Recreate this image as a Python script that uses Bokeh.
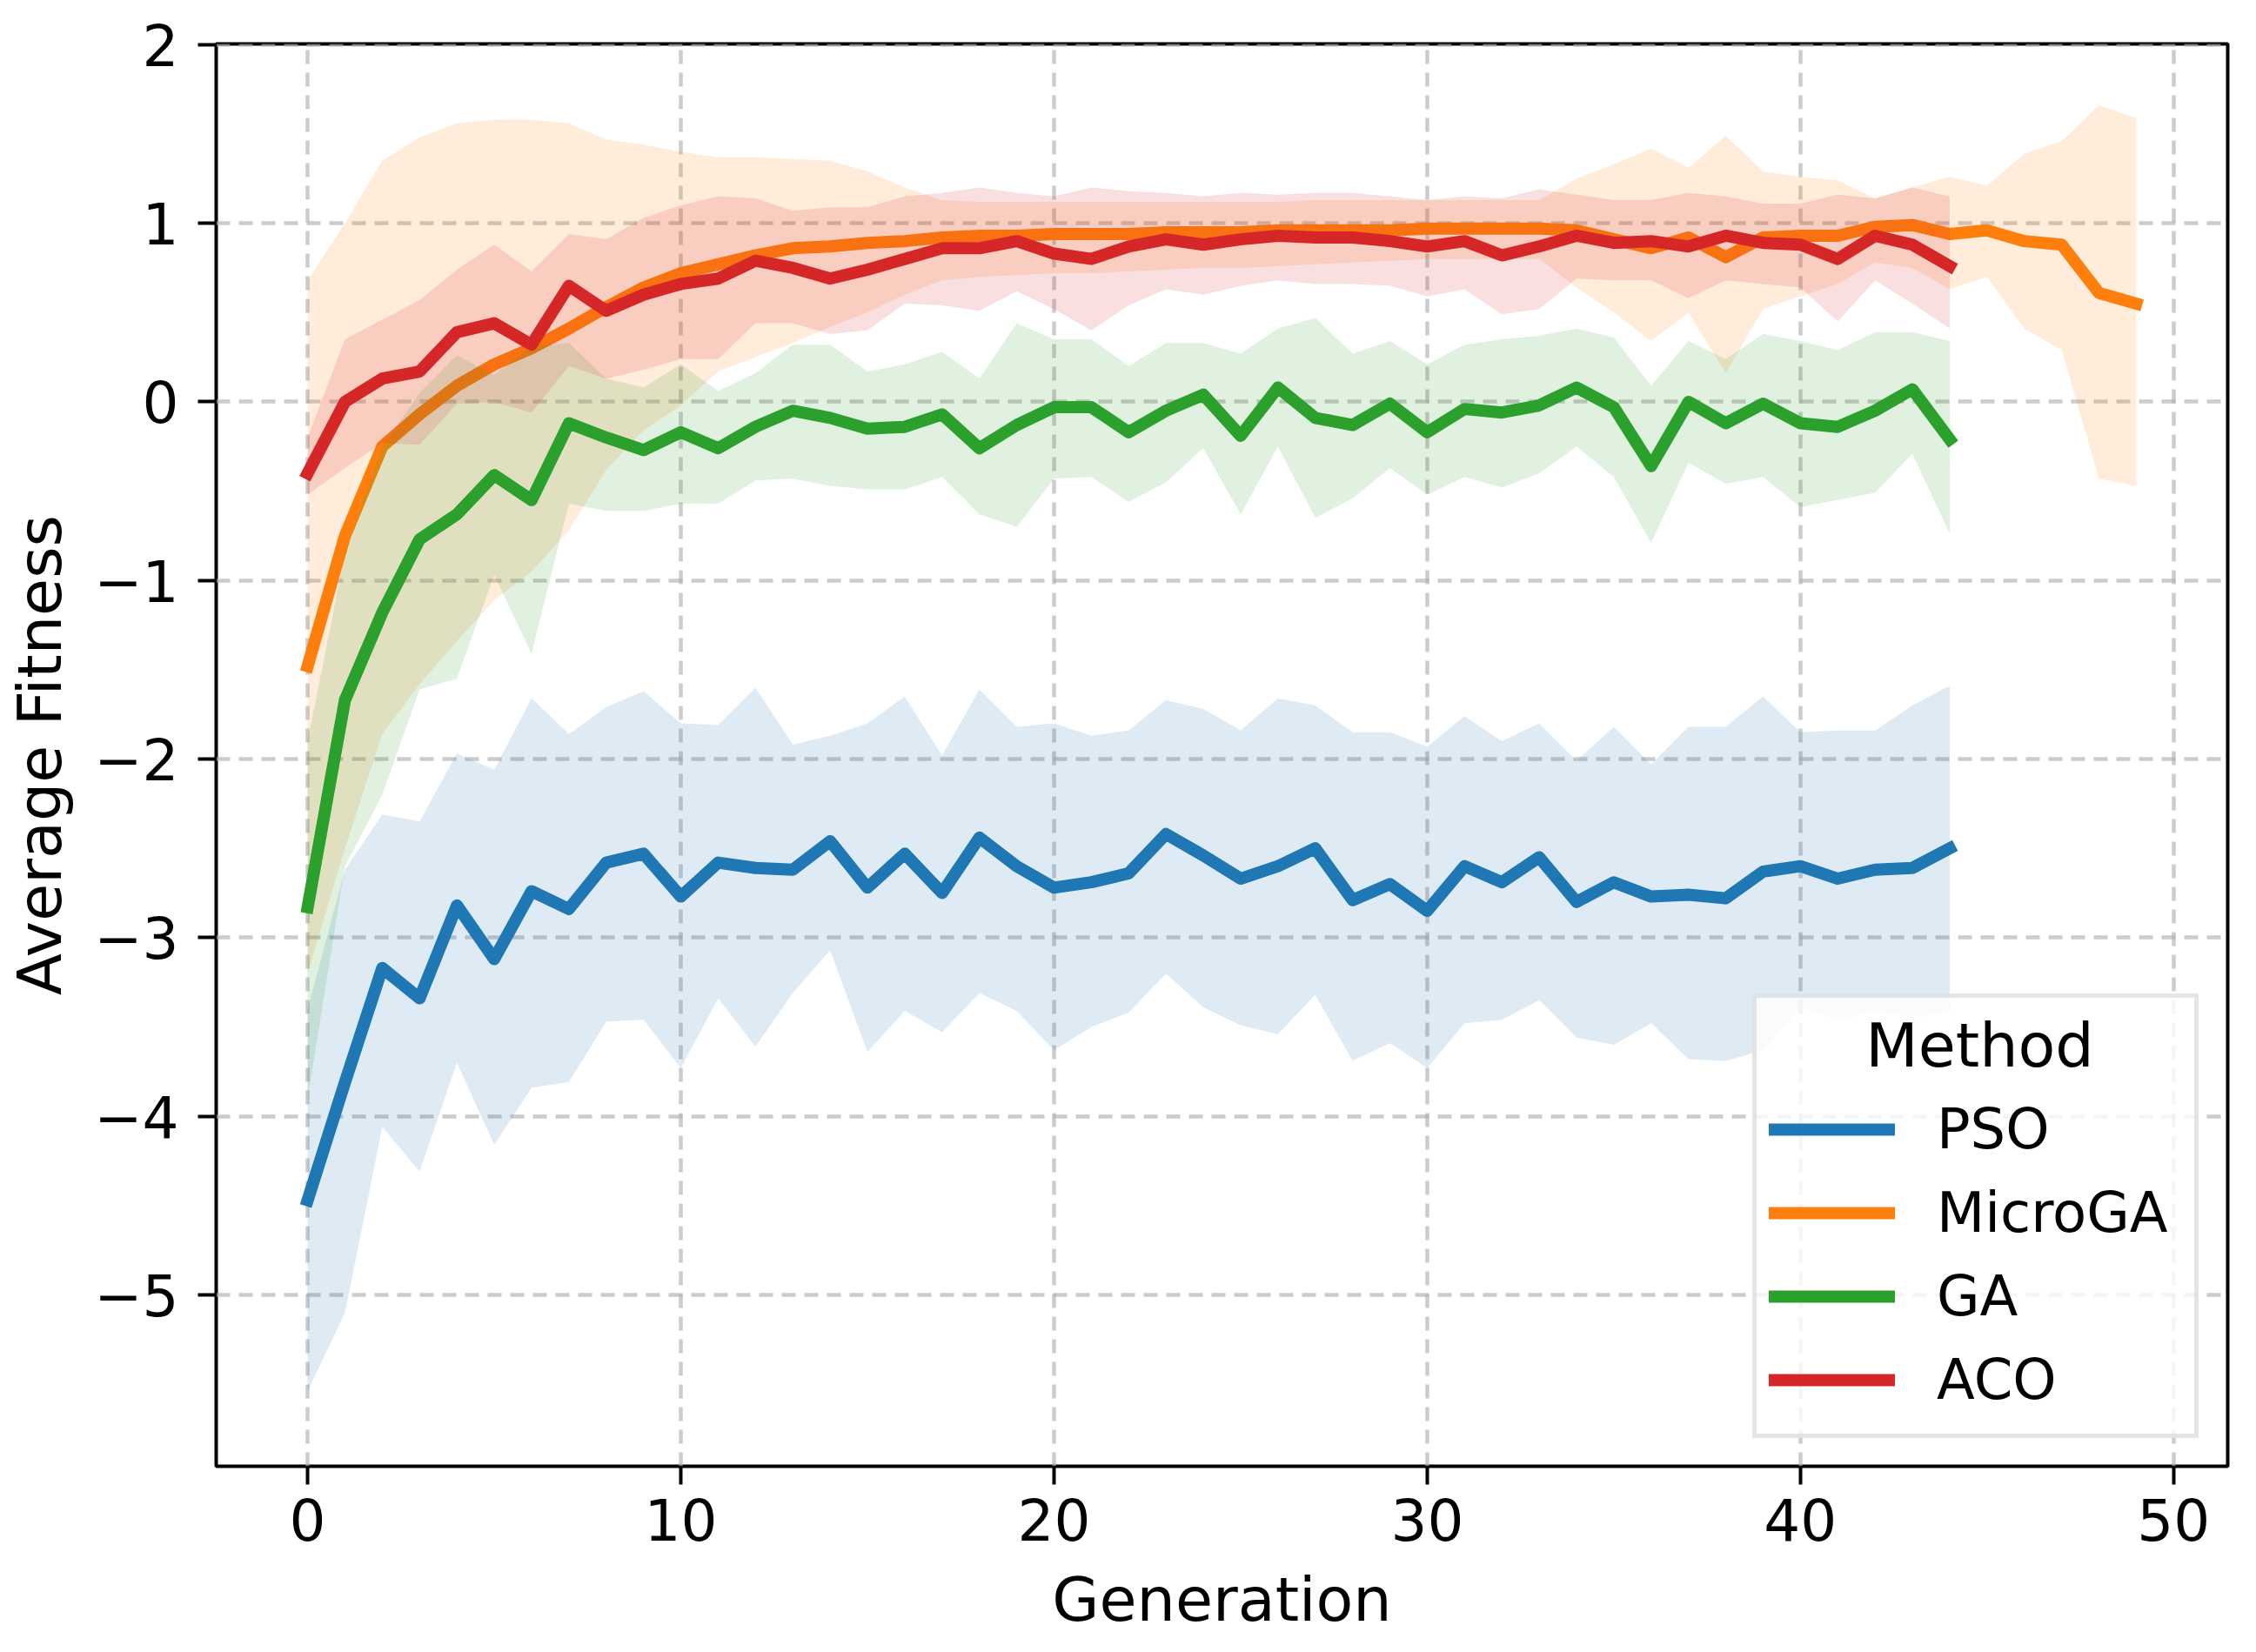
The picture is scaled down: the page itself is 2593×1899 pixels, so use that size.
from bokeh.plotting import figure
from bokeh.models import (ColumnDataSource, Legend, LegendItem, Range1d, FixedTicker,
                          CustomJSTickFormatter)
from bokeh.embed import file_html
from bokeh.resources import INLINE

# ---------------- data ----------------
methods = ["PSO", "MicroGA", "GA", "ACO"]
colors = ["#1f77b4", "#ff7f0e", "#2ca02c", "#d62728"]

pso_mean = [-4.47, -3.81, -3.17, -3.34, -2.82, -3.12, -2.74, -2.84, -2.58, -2.53, -2.77, -2.58, -2.61, -2.62, -2.46,
            -2.72, -2.53, -2.75, -2.44, -2.60, -2.72, -2.69, -2.64, -2.42, -2.54, -2.67, -2.60, -2.50, -2.79, -2.70,
            -2.85, -2.60, -2.69, -2.55, -2.80, -2.69, -2.77, -2.76, -2.78, -2.63, -2.60, -2.67, -2.62, -2.61, -2.50]
pso_upper = [-3.40, -2.62, -2.31, -2.35, -1.97, -2.06, -1.66, -1.86, -1.71, -1.62, -1.80, -1.81, -1.60, -1.92, -1.87,
             -1.80, -1.65, -1.98, -1.61, -1.82, -1.80, -1.87, -1.84, -1.67, -1.72, -1.84, -1.66, -1.70, -1.85, -1.85,
             -1.93, -1.76, -1.90, -1.80, -2.01, -1.82, -2.03, -1.82, -1.82, -1.65, -1.85, -1.84, -1.84, -1.70, -1.59]
pso_lower = [-5.54, -5.10, -4.06, -4.31, -3.70, -4.16, -3.84, -3.81, -3.47, -3.46, -3.73, -3.34, -3.61, -3.31, -3.07,
             -3.64, -3.41, -3.53, -3.31, -3.41, -3.63, -3.50, -3.42, -3.20, -3.39, -3.49, -3.54, -3.32, -3.69, -3.59,
             -3.73, -3.48, -3.46, -3.35, -3.56, -3.60, -3.48, -3.68, -3.69, -3.63, -3.39, -3.46, -3.41, -3.45, -3.41]

micro_mean = [-1.48, -0.75, -0.25, -0.07, 0.09, 0.21, 0.30, 0.41, 0.53, 0.64, 0.72, 0.77, 0.82, 0.86, 0.87,
              0.89, 0.90, 0.92, 0.93, 0.93, 0.94, 0.94, 0.94, 0.95, 0.95, 0.95, 0.96, 0.96, 0.96, 0.96,
              0.97, 0.97, 0.97, 0.97, 0.96, 0.91, 0.86, 0.92, 0.81, 0.92, 0.93, 0.93, 0.98, 0.99, 0.94,
              0.96, 0.90, 0.88, 0.61, 0.55]
micro_upper = [0.68, 1.00, 1.35, 1.48, 1.56, 1.58, 1.58, 1.56, 1.47, 1.44, 1.40, 1.37, 1.37, 1.36, 1.35,
               1.29, 1.20, 1.13, 1.12, 1.12, 1.12, 1.12, 1.12, 1.12, 1.12, 1.12, 1.12, 1.13, 1.13, 1.13,
               1.13, 1.13, 1.13, 1.13, 1.25, 1.33, 1.42, 1.31, 1.49, 1.29, 1.26, 1.24, 1.14, 1.20, 1.26,
               1.21, 1.39, 1.46, 1.66, 1.59]
micro_lower = [-3.20, -2.50, -1.86, -1.58, -1.34, -1.11, -0.95, -0.72, -0.38, -0.16, -0.02, 0.17, 0.25, 0.33, 0.42,
               0.50, 0.60, 0.68, 0.70, 0.71, 0.72, 0.72, 0.73, 0.74, 0.75, 0.75, 0.76, 0.77, 0.78, 0.79,
               0.80, 0.80, 0.80, 0.80, 0.64, 0.50, 0.34, 0.50, 0.16, 0.52, 0.59, 0.66, 0.78, 0.75, 0.63,
               0.70, 0.41, 0.29, -0.43, -0.47]

ga_mean = [-2.83, -1.67, -1.18, -0.77, -0.63, -0.41, -0.55, -0.12, -0.20, -0.27, -0.17, -0.26, -0.14, -0.05, -0.09,
           -0.15, -0.14, -0.07, -0.26, -0.13, -0.03, -0.03, -0.17, -0.05, 0.04, -0.19, 0.08, -0.09, -0.13, -0.01,
           -0.17, -0.04, -0.06, -0.02, 0.08, -0.03, -0.36, 0.00, -0.12, -0.01, -0.12, -0.14, -0.05, 0.07, -0.21]
ga_upper = [-1.90, -0.85, -0.25, 0.05, 0.26, 0.15, 0.31, 0.33, 0.13, 0.08, 0.21, 0.06, 0.16, 0.32, 0.32,
            0.17, 0.21, 0.28, 0.13, 0.44, 0.35, 0.35, 0.20, 0.33, 0.33, 0.27, 0.41, 0.47, 0.27, 0.34,
            0.21, 0.32, 0.35, 0.37, 0.41, 0.36, 0.09, 0.34, 0.24, 0.38, 0.34, 0.29, 0.39, 0.39, 0.34]
ga_lower = [-3.90, -2.60, -2.20, -1.61, -1.55, -0.97, -1.41, -0.57, -0.61, -0.61, -0.57, -0.57, -0.44, -0.43, -0.47,
            -0.49, -0.49, -0.42, -0.63, -0.70, -0.43, -0.42, -0.56, -0.45, -0.26, -0.63, -0.25, -0.65, -0.54, -0.37,
            -0.52, -0.42, -0.48, -0.40, -0.25, -0.42, -0.79, -0.34, -0.46, -0.42, -0.59, -0.55, -0.51, -0.29, -0.74]

aco_mean = [-0.40, 0.00, 0.13, 0.17, 0.39, 0.44, 0.32, 0.65, 0.51, 0.60, 0.66, 0.69, 0.79, 0.75, 0.69,
            0.74, 0.80, 0.86, 0.86, 0.90, 0.83, 0.80, 0.87, 0.91, 0.88, 0.91, 0.93, 0.92, 0.92, 0.90,
            0.87, 0.90, 0.82, 0.87, 0.93, 0.89, 0.90, 0.87, 0.93, 0.89, 0.88, 0.80, 0.93, 0.88, 0.76]
aco_upper = [-0.20, 0.35, 0.46, 0.57, 0.74, 0.88, 0.73, 0.94, 0.91, 1.03, 1.10, 1.15, 1.14, 1.07, 1.09,
             1.09, 1.15, 1.17, 1.20, 1.17, 1.15, 1.20, 1.18, 1.17, 1.15, 1.17, 1.16, 1.17, 1.17, 1.15,
             1.13, 1.15, 1.14, 1.19, 1.16, 1.13, 1.13, 1.17, 1.15, 1.11, 1.11, 1.16, 1.14, 1.20, 1.15]
aco_lower = [-0.52, -0.37, -0.23, -0.24, -0.01, 0.00, -0.06, 0.20, 0.13, 0.18, 0.24, 0.24, 0.44, 0.44, 0.38,
             0.40, 0.55, 0.54, 0.51, 0.62, 0.52, 0.40, 0.54, 0.63, 0.60, 0.65, 0.68, 0.66, 0.66, 0.65,
             0.59, 0.63, 0.49, 0.52, 0.69, 0.68, 0.68, 0.58, 0.68, 0.66, 0.64, 0.45, 0.68, 0.55, 0.41]

x_ticks = [0, 10, 20, 30, 40, 50]
y_ticks = [-5, -4, -3, -2, -1, 0, 1, 2]

series = [
    (pso_mean, pso_lower, pso_upper),
    (micro_mean, micro_lower, micro_upper),
    (ga_mean, ga_lower, ga_upper),
    (aco_mean, aco_lower, aco_upper),
]

FONT = "DejaVu Sans"

p = figure(frame_width=2312, frame_height=1635, output_backend="svg", toolbar_location=None,
           x_range=Range1d(-2.45, 51.45), y_range=Range1d(-5.96, 2.004),
           min_border_left=248, min_border_top=50, min_border_right=17, min_border_bottom=150)
p.background_fill_color = "white"
p.border_fill_color = "white"
p.outline_line_color = "black"
p.outline_line_width = 4
p.outline_line_alpha = 1.0

renderers = []
for name, color, (m, lo, hi) in zip(methods, colors, series):
    gens = list(range(len(m)))
    src = ColumnDataSource(dict(x=gens, mean=m, lower=lo, upper=hi))
    r = p.line("x", "mean", source=src, line_color=color, line_width=14,
               line_join="round", line_cap="square")
    p.varea(x="x", y1="lower", y2="upper", source=src, fill_color=color, fill_alpha=0.15)
    renderers.append((name, r))

# axes
for ax in (p.xaxis[0], p.yaxis[0]):
    ax.axis_line_color = None
    ax.major_tick_out = 21
    ax.major_tick_in = 0
    ax.major_tick_line_width = 4
    ax.major_tick_line_color = "black"
    ax.minor_tick_line_color = None
    ax.major_label_text_font = FONT
    ax.major_label_text_font_size = "66px"
    ax.major_label_text_color = "black"
    ax.axis_label_text_font = FONT
    ax.axis_label_text_font_size = "70px"
    ax.axis_label_text_font_style = "normal"
    ax.axis_label_text_color = "black"

p.xaxis.ticker = FixedTicker(ticks=x_ticks)
p.yaxis.ticker = FixedTicker(ticks=y_ticks)
p.yaxis.formatter = CustomJSTickFormatter(code="return tick < 0 ? '\\u2212' + Math.abs(tick) : '' + tick;")
p.xaxis.axis_label = "Generation"
p.yaxis.axis_label = "Average Fitness"
p.xaxis.major_label_standoff = 15
p.xaxis.axis_label_standoff = 24
p.yaxis.major_label_standoff = 22
p.yaxis.axis_label_standoff = 18

# grid
for g in (p.xgrid[0], p.ygrid[0]):
    g.grid_line_color = "#b0b0b0"
    g.grid_line_alpha = 0.65
    g.grid_line_dash = "16 10"
    g.grid_line_width = 4.5

legend = Legend(items=[LegendItem(label=n, renderers=[r]) for n, r in renderers],
                location=(1766, 32), title="\u00a0\u00a0\u00a0\u00a0\u00a0Method")
legend.title_text_font = FONT
legend.title_text_font_size = "70px"
legend.title_text_font_style = "normal"
legend.title_text_color = "black"
legend.title_standoff = 7
legend.label_text_font = FONT
legend.label_text_font_size = "64px"
legend.label_text_color = "black"
legend.label_standoff = 48
legend.label_width = 282
legend.glyph_width = 145
legend.glyph_height = 96
legend.label_height = 96
legend.spacing = 0
legend.padding = 14
legend.margin = 0
legend.border_line_color = "#cccccc"
legend.border_line_width = 5
legend.background_fill_color = "white"
legend.background_fill_alpha = 0.8
p.add_layout(legend)

open("out.html", "w").write(file_html(p, INLINE))
